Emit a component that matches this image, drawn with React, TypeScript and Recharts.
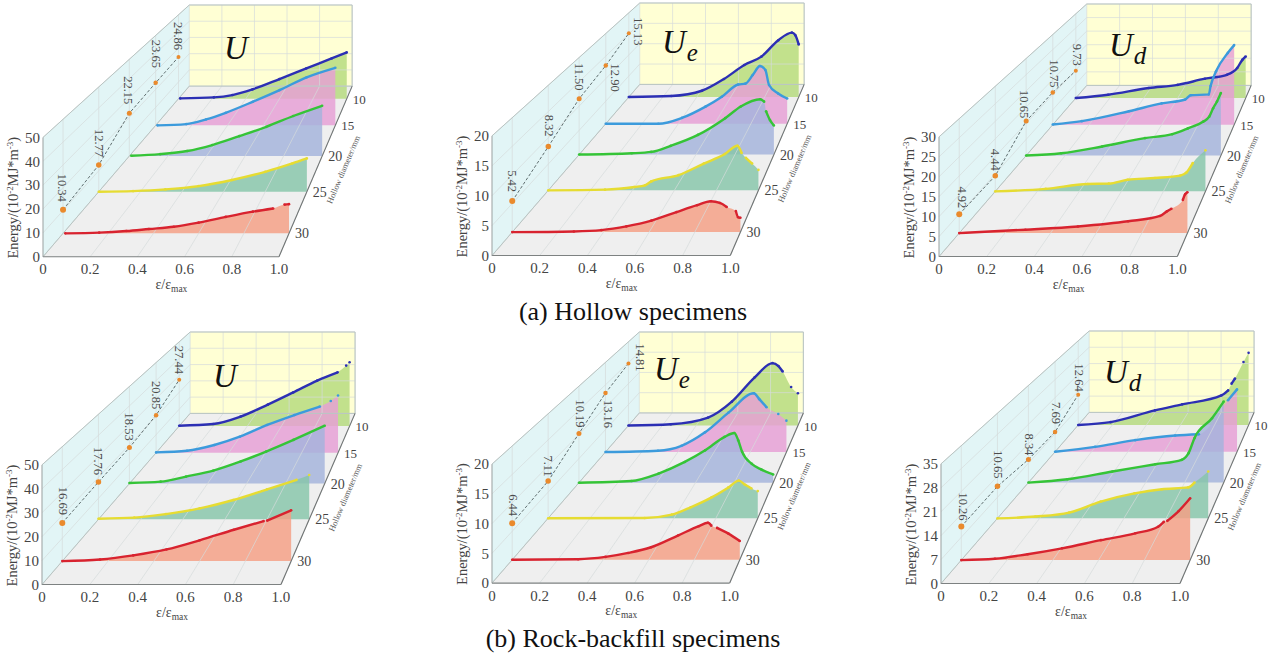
import React from 'react';
import { Area, ComposedChart, Line, XAxis, YAxis } from 'recharts';

type Pt = [number, number | null];

const FONT = '"Liberation Serif", "Times New Roman", serif';

// depth categories, front to back
const diameters = ['30', '25', '20', '15', '10'];
const strainTicks = [0, 0.2, 0.4, 0.6, 0.8, 1];

// (a) hollow specimens, total energy U: [strain ratio, energy above the baseline]
const hollowU30: Pt[] = [[0.01, 0], [0.16, 0.3], [0.28, 1], [0.38, 1.9], [0.49, 2.9], [0.6, 4.7], [0.72, 7.2], [0.84, 9.5], [0.93, 10.9], [0.95, null], [0.98, 12.6], [1, 12.8]];
const hollowU25: Pt[] = [[0, 0], [0.165, 0.3], [0.32, 1.1], [0.48, 2.7], [0.64, 5.6], [0.8, 9.5], [0.93, 13.5], [1, 15.9]];
const hollowU20: Pt[] = [[0.01, 0.2], [0.16, 1], [0.3, 2.6], [0.43, 5.7], [0.57, 10.3], [0.71, 15.1], [0.85, 20.7], [1, 26]];
const hollowU15: Pt[] = [[0.01, 0], [0.17, 0.7], [0.28, 3.3], [0.39, 7], [0.54, 13.1], [0.69, 19.6], [0.84, 26.7], [1, 32]];
const hollowU10: Pt[] = [[0.01, 0.2], [0.21, 0.8], [0.32, 2.2], [0.44, 5.6], [0.6, 11.7], [0.76, 18.1], [0.91, 24], [1, 27.6]];

// (a) elastic energy Ue
const hollowUe30: Pt[] = [[0, 0], [0.27, 0.12], [0.39, 0.35], [0.5, 1], [0.61, 2], [0.72, 3.5], [0.81, 4.7], [0.87, 5.4], [0.91, 5.1], [0.94, 4.4], [0.96, null], [0.98, 3.7], [0.99, 2.6], [1, 2.5]];
const hollowUe25: Pt[] = [[0, 0], [0.27, 0.13], [0.41, 0.63], [0.46, 0.95], [0.49, 1.7], [0.62, 2.9], [0.74, 5.1], [0.84, 6.9], [0.9, 8.5], [0.92, 7.1], [0.93, null], [0.94, 6.2], [0.97, 5.1], [0.985, null], [1, 3.9]];
const hollowUe20: Pt[] = [[0, 0], [0.27, 0.27], [0.37, 0.55], [0.47, 1.8], [0.61, 4.05], [0.75, 7.5], [0.83, 9.9], [0.93, 11.4], [0.95, 10.9], [0.955, null], [0.96, 8.9], [0.98, 7.1], [1, 6]];
const hollowUe15: Pt[] = [[0, 0], [0.29, 0], [0.42, 1.3], [0.55, 3.8], [0.64, 6], [0.73, 8.7], [0.77, 8.9], [0.81, 10.8], [0.85, 12.8], [0.88, 11.9], [0.9, 8.6], [0.95, 6.7], [1, 5.6]];
const hollowUe10: Pt[] = [[0, 0], [0.25, 0.24], [0.43, 1.5], [0.56, 4.3], [0.68, 7.6], [0.78, 9.6], [0.88, 13.5], [0.96, 15.3], [0.98, 14.7], [1, 12.5]];

// (a) dissipated energy Ud
const hollowUd30: Pt[] = [[0, 0], [0.29, 0.9], [0.52, 1.75], [0.74, 3.1], [0.88, 4.5], [0.91, 5.7], [0.93, 6.4], [0.95, null], [0.98, 8.7], [0.99, 10.2], [1, 10.7]];
const hollowUd25: Pt[] = [[0, 0], [0.24, 0.7], [0.44, 2.1], [0.54, 2.2], [0.63, 3.3], [0.76, 3.8], [0.88, 4.5], [0.91, 5.4], [0.94, 8.1], [0.97, null], [1, 11.7]];
const hollowUd20: Pt[] = [[0, 0], [0.18, 0.7], [0.39, 2.8], [0.61, 5.4], [0.75, 6.6], [0.83, 8.4], [0.91, 10.5], [0.94, 12], [0.96, 14.6], [0.98, 16.7], [1, 19.3]];
const hollowUd15: Pt[] = [[0, 0.1], [0.16, 1.2], [0.42, 4.5], [0.6, 7.1], [0.73, 8.4], [0.76, 9.8], [0.86, 10.1], [0.87, 12.9], [0.9, 17.8], [0.965, 23.9], [1, 26.5]];
const hollowUd10: Pt[] = [[0, 0], [0.19, 1.2], [0.43, 3.6], [0.6, 4.7], [0.76, 6.9], [0.89, 8.3], [0.95, 10.7], [0.98, 13.6], [1, 14.8]];

// (b) rock-backfill specimens, U
const backfillU30: Pt[] = [[0, 0], [0.165, 0.7], [0.31, 2.5], [0.455, 5.1], [0.6, 9.1], [0.75, 13.7], [0.88, 17.5], [0.89, null], [0.895, 17.7], [1, 22.2]];
const backfillU25: Pt[] = [[0, 0.3], [0.17, 0.8], [0.32, 2.5], [0.48, 5.2], [0.64, 9.2], [0.8, 14.3], [0.94, 18.8], [0.97, null], [1, 21.1]];
const backfillU20: Pt[] = [[0, 0.3], [0.16, 1], [0.29, 3.6], [0.43, 6.7], [0.57, 11.4], [0.7, 16.5], [0.84, 22.5], [1, 29.8]];
const backfillU15: Pt[] = [[0, 0.2], [0.17, 1.1], [0.32, 4.3], [0.46, 8.9], [0.61, 15.4], [0.76, 20.9], [0.9, 25.6], [0.93, null], [0.96, 28.7], [0.98, null], [1, 31.7]];
const backfillU10: Pt[] = [[0, 0.2], [0.2, 1.2], [0.36, 5.6], [0.52, 12.7], [0.67, 20], [0.81, 27], [0.93, 31.9], [0.95, null], [0.98, 35.9], [0.99, null], [1, 37.9]];

// (b) Ue
const backfillUe30: Pt[] = [[0, 0], [0.29, 0.1], [0.41, 0.5], [0.51, 1.2], [0.61, 2.2], [0.73, 4.3], [0.82, 5.9], [0.86, 6.5], [0.875, 6], [0.885, null], [0.9, 5.6], [0.95, 4.6], [1, 3.3]];
const backfillUe25: Pt[] = [[0, 0], [0.46, 0.06], [0.59, 0.7], [0.68, 2.1], [0.78, 4], [0.86, 5.9], [0.91, 7.2], [0.94, 6.4], [0.97, 5.7], [0.985, null], [1, 5.2]];
const backfillUe20: Pt[] = [[0, 0], [0.27, 0.35], [0.41, 1.9], [0.545, 4.3], [0.65, 6.7], [0.75, 9.5], [0.8, 10.3], [0.82, 8.8], [0.84, 6.4], [0.89, 3.9], [0.94, 2.7], [1, 1.7]];
const backfillUe15: Pt[] = [[0, 0], [0.29, 0.3], [0.42, 1.4], [0.55, 4.4], [0.68, 8.8], [0.82, 13.1], [0.85, 11.8], [0.89, 10], [0.92, null], [0.955, 8.5], [0.98, null], [1, 7]];
const backfillUe10: Pt[] = [[0, 0], [0.25, 0.3], [0.47, 1.9], [0.61, 5.7], [0.745, 11.5], [0.85, 14.9], [0.885, 14.2], [0.91, 12.9], [0.94, null], [0.96, 9.2], [0.98, null], [1, 7.7]];

// (b) Ud
const backfillUd30: Pt[] = [[0, 0], [0.147, 0.4], [0.29, 1.8], [0.44, 3.6], [0.61, 6.1], [0.76, 8.2], [0.86, 10.2], [0.885, 11.7], [0.89, null], [0.9, 12], [0.95, 15], [1, 18.9]];
const backfillUd25: Pt[] = [[0, 0], [0.18, 0.6], [0.34, 1.9], [0.49, 5.6], [0.65, 8.3], [0.78, 9.7], [0.905, 10.3], [0.935, 11.9], [0.97, null], [1, 15.6]];
const backfillUd20: Pt[] = [[0, 0], [0.2, 1.2], [0.43, 4], [0.65, 6.6], [0.785, 8.2], [0.82, 10.6], [0.85, 16], [0.94, 23.2], [1, 29.2]];
const backfillUd15: Pt[] = [[0, 0], [0.22, 1.9], [0.44, 4.5], [0.66, 6.3], [0.79, 6.8], [0.9, null], [0.95, 20], [1, 24.2]];
const backfillUd10: Pt[] = [[0, 0], [0.19, 1.2], [0.45, 6.1], [0.61, 8.6], [0.84, 12.3], [0.88, 14.4], [0.89, null], [0.9, 17.2], [0.92, 19.3], [0.95, null], [0.97, 26.2], [0.985, null], [1, 30]];

// peak values printed along the left wall
const hollowUPeaks = [10.34, 12.77, 22.15, 23.65, 24.86];
const hollowUePeaks = [5.42, 8.32, 11.5, 12.9, 15.13];
const hollowUdPeaks = [4.92, 4.44, 10.65, 10.75, 9.73];
const backfillUPeaks = [16.69, 17.76, 18.53, 20.85, 27.44];
const backfillUePeaks = [6.44, 7.11, 10.19, 13.16, 14.81];
const backfillUdPeaks = [10.26, 10.65, 8.34, 7.69, 12.64];

// oblique projection of the box, as fractions of the front plane
const DEPTH = [0.137, 0.381, 0.59, 0.77, 0.926];
const SHIFT_L = 0.62;
const SHIFT_R = 0.31;
const RISE = 1.43;
const SHRINK = 0.32;

const lineColors = ['#d8232f', '#e6dc32', '#35c437', '#3c9bdc', '#2c2fb4'];
const fillColors = ['#f59f84', '#86c6aa', '#a3b3dc', '#e69fd6', '#b4db7c'];

const panels = [
  { sym: 'U', sub: '', yMax: 50, yTicks: [0, 10, 20, 30, 40, 50], series: [hollowU30, hollowU25, hollowU20, hollowU15, hollowU10], peaks: hollowUPeaks,
    left: 43.3, bottom: 256.7, w: 236, h: 119.3, symX: 237, symY: 48,
    off: [[-1, -22], [0, -22], [-1, -23], [0, -29], [0, -21]] },
  { sym: 'U', sub: 'e', yMax: 20, yTicks: [0, 5, 10, 15, 20], series: [hollowUe30, hollowUe25, hollowUe20, hollowUe15, hollowUe10], peaks: hollowUePeaks,
    left: 492.3, bottom: 255.7, w: 238.3, h: 119.7, symX: 675, symY: 42,
    off: [[0, -20], [1, -21], [0, -22], [9, 12], [9, -2]] },
  { sym: 'U', sub: 'd', yMax: 30, yTicks: [0, 5, 10, 15, 20, 25, 30], series: [hollowUd30, hollowUd25, hollowUd20, hollowUd15, hollowUd10], peaks: hollowUdPeaks,
    left: 939.3, bottom: 256.7, w: 238.3, h: 119.7, symX: 1122, symY: 45,
    off: [[3, -17], [0, -16], [-2, -17], [1, -19], [1, -16]] },
  { sym: 'U', sub: '', yMax: 50, yTicks: [0, 10, 20, 30, 40, 50], series: [backfillU30, backfillU25, backfillU20, backfillU15, backfillU10], peaks: backfillUPeaks,
    left: 42, bottom: 584.7, w: 239, h: 119.7, symX: 226, symY: 376,
    off: [[1, -22], [0, -21], [0, -21], [0, -20], [0, -20]] },
  { sym: 'U', sub: 'e', yMax: 20, yTicks: [0, 5, 10, 15, 20], series: [backfillUe30, backfillUe25, backfillUe20, backfillUe15, backfillUe10], peaks: backfillUePeaks,
    left: 492.3, bottom: 583, w: 237.7, h: 119, symX: 667, symY: 369,
    off: [[1, -18], [0, -15], [1, -20], [3, 21], [12, -6]] },
  { sym: 'U', sub: 'd', yMax: 35, yTicks: [0, 7, 14, 21, 28, 35], series: [backfillUd30, backfillUd25, backfillUd20, backfillUd15, backfillUd10], peaks: backfillUdPeaks,
    left: 941, bottom: 584, w: 239, h: 119.7, symX: 1117, symY: 372,
    off: [[2, -20], [1, -22], [1, -15], [1, -19], [1, -17]] },
];

const projX = (x: number, t: number) => t * SHIFT_L + x * (1 + t * (SHIFT_R - SHIFT_L));
const projY = (v: number, t: number, yMax: number) => t * RISE * yMax + v * (1 - SHRINK * t);

const GRID = '#d6dbdb';
const EDGE = '#b9c4c2';
const lineProps = { isAnimationActive: false, dot: false, activeDot: false, legendType: 'none' as const };

const Panel = ({ p }: { p: (typeof panels)[number] }) => {
  const { yMax, w, h } = p;
  const backBase = RISE * yMax;
  const backTop = backBase + yMax * (1 - SHRINK);
  const xEnd = 1 + SHIFT_R;
  // the axes span the whole box, only the front-plane ticks are labelled
  const plotW = w * xEnd;
  const plotH = (h * backTop) / yMax;
  const marginL = 50;
  const marginT = 3;
  const marginB = 42;
  const marginR = 36;
  const chartW = marginL + plotW + marginR;
  const chartH = marginT + plotH + marginB;
  const baseY = marginT + plotH;

  const seg = (a: number[], b: number[]) => [{ x: a[0], y: a[1] }, { x: b[0], y: b[1] }];
  const grid: { x: number; y: number }[][] = [];
  p.yTicks.forEach((v) => {
    grid.push(seg([0, v], [SHIFT_L, projY(v, 1, yMax)]));
    grid.push(seg([SHIFT_L, projY(v, 1, yMax)], [xEnd, projY(v, 1, yMax)]));
  });
  strainTicks.forEach((x) => {
    grid.push(seg([x, 0], [projX(x, 1), backBase]));
    grid.push(seg([projX(x, 1), backBase], [projX(x, 1), backTop]));
  });
  DEPTH.forEach((t) => {
    grid.push(seg([projX(0, t), projY(0, t, yMax)], [projX(0, t), projY(yMax, t, yMax)]));
  });

  const peakRows = p.peaks.map((v, i) => ({ x: projX(0, DEPTH[i]), y: projY(v, DEPTH[i], yMax), label: v.toFixed(2), off: p.off[i] }));
  const depthRows = diameters.map((d, i) => ({ x: projX(1, DEPTH[i]), y: projY(0, DEPTH[i], yMax), label: d }));

  return (
    <div style={{ position: 'absolute', left: p.left - marginL, top: p.bottom - plotH - marginT }}>
      <ComposedChart width={chartW} height={chartH} margin={{ left: marginL - 30, right: marginR, top: marginT, bottom: marginB - 30 }}>
        <XAxis
          type="number"
          dataKey="x"
          domain={[0, xEnd]}
          ticks={strainTicks}
          interval={0}
          height={30}
          axisLine={false}
          tickSize={0}
          tickMargin={7}
          tickFormatter={(v: number) => (v === 0 ? '0' : v.toFixed(1))}
          tick={{ fontSize: 15, fontFamily: FONT, fill: '#444' }}
        />
        <YAxis
          type="number"
          dataKey="y"
          domain={[0, backTop]}
          ticks={p.yTicks}
          interval={0}
          width={30}
          axisLine={false}
          tickSize={0}
          tickMargin={3}
          tick={{ fontSize: 15, fontFamily: FONT, fill: '#444' }}
        />

        {/* floor and walls */}
        <Area isAnimationActive={false} dataKey="range" stroke="none" fill="#efefef" fillOpacity={1} activeDot={false} dot={false}
          data={[{ x: 0, range: [0, 0] }, { x: SHIFT_L, range: [0, backBase] }, { x: 1, range: [0, backBase] }, { x: xEnd, range: [backBase, backBase] }]} />
        <Area isAnimationActive={false} dataKey="range" stroke="none" fill="#e2f5f6" fillOpacity={1} activeDot={false} dot={false}
          data={[{ x: 0, range: [0, yMax] }, { x: SHIFT_L, range: [backBase, backTop] }]} />
        <Area isAnimationActive={false} dataKey="range" stroke="none" fill="#ffffd4" fillOpacity={1} activeDot={false} dot={false}
          data={[{ x: SHIFT_L, range: [backBase, backTop] }, { x: xEnd, range: [backBase, backTop] }]} />
        {grid.map((g, i) => (
          <Line key={`g${i}`} {...lineProps} data={g} dataKey="y" stroke={GRID} strokeWidth={0.7} />
        ))}
        <Line {...lineProps} data={seg([0, yMax], [SHIFT_L, backTop])} dataKey="y" stroke={EDGE} strokeWidth={1} />
        <Line {...lineProps} data={seg([SHIFT_L, backTop], [xEnd, backTop])} dataKey="y" stroke={EDGE} strokeWidth={1} />
        <Line {...lineProps} data={seg([xEnd, backBase], [xEnd, backTop])} dataKey="y" stroke={EDGE} strokeWidth={1} />
        <Line {...lineProps} data={seg([SHIFT_L, backBase], [xEnd, backBase])} dataKey="y" stroke={EDGE} strokeWidth={1} />
        <Line {...lineProps} data={seg([0, 0], [SHIFT_L, backBase])} dataKey="y" stroke={EDGE} strokeWidth={1} />
        <Line {...lineProps} data={seg([1, 0], [xEnd, backBase])} dataKey="y" stroke="#6f7373" strokeWidth={1.1} />
        <Line {...lineProps} data={seg([0, 0], [1, 0])} dataKey="y" stroke="#7d8181" strokeWidth={1.1} />
        <Line {...lineProps} data={seg([0, 0], [0, yMax])} dataKey="y" stroke="#9aa0a0" strokeWidth={1} />

        {/* peak values along the left wall */}
        <Line
          {...lineProps}
          data={peakRows}
          dataKey="y"
          stroke="#5f6d6e"
          strokeWidth={1}
          strokeDasharray="3 2"
          dot={(d: any) => (
            <g key={d.index}>
              <circle cx={d.cx} cy={d.cy} r={3 - d.index * 0.25} fill="#ea8a2c" />
              <text
                transform={`translate(${d.cx + d.payload.off[0]},${d.cy + d.payload.off[1]}) rotate(90)`}
                textAnchor="middle"
                dominantBaseline="central"
                fontSize={12.5}
                fontFamily={FONT}
                fill="#4c4c4c"
              >
                {d.payload.label}
              </text>
            </g>
          )}
        />

        {/* curves, back to front */}
        {[4, 3, 2, 1, 0].map((i) => {
          const t = DEPTH[i];
          const base = projY(0, t, yMax);
          const rows = p.series[i].map(([x, v]) => ({ x: projX(x, t), y: v === null ? null : projY(v, t, yMax) }));
          const areaRows = rows.filter((r) => r.y !== null).map((r) => ({ x: r.x, range: [base, r.y] }));
          return (
            <React.Fragment key={i}>
              <Area isAnimationActive={false} type="monotone" data={areaRows} dataKey="range" stroke="none" fill={fillColors[i]} fillOpacity={0.82} activeDot={false} dot={false} />
              <Line isAnimationActive={false} type="monotone" activeDot={false} data={rows} dataKey="y" stroke={lineColors[i]} strokeWidth={2.4} dot={{ r: 1.3, fill: lineColors[i], stroke: 'none' }} />
            </React.Fragment>
          );
        })}

        {/* depth axis labels */}
        <Line
          {...lineProps}
          data={depthRows}
          dataKey="y"
          stroke="none"
          dot={(d: any) => (
            <text key={d.index} x={d.cx + 6} y={d.cy + 5} fontSize={d.index < 3 ? 14 : 13} fontFamily={FONT} fill="#444">
              {d.payload.label}
            </text>
          )}
        />

        <text
          transform={`translate(${marginL + w + 67},${baseY - 86}) rotate(-67)`}
          textAnchor="middle"
          fontSize={8.5}
          fontFamily={FONT}
          fill="#555"
        >
          Hollow diameter/mm
        </text>
        <text x={marginL + w * 0.544} y={baseY + 32} textAnchor="middle" fontSize={14} fontFamily={FONT} fill="#444">
          ε/ε<tspan fontSize={9.5} dy={3}>max</tspan>
        </text>
        <text
          transform={`translate(${marginL - 25},${baseY - 59}) rotate(-90)`}
          textAnchor="middle"
          fontSize={14.5}
          fontFamily={FONT}
          fill="#444"
        >
          Energy/(10<tspan fontSize={9} dy={-5}>-2</tspan><tspan dy={5}>MJ*m</tspan><tspan fontSize={9} dy={-5}>-3</tspan><tspan dy={5}>)</tspan>
        </text>
      </ComposedChart>
      <div
        style={{
          position: 'absolute',
          left: marginL + (p.symX - p.left) - 13,
          top: baseY - (p.bottom - p.symY) - 20,
          fontFamily: FONT,
          fontStyle: 'italic',
          fontSize: 33,
          lineHeight: '40px',
          color: '#111',
          whiteSpace: 'nowrap',
        }}
      >
        {p.sym}
        {p.sub && <span style={{ fontSize: 25, position: 'relative', top: 8, left: 1 }}>{p.sub}</span>}
      </div>
    </div>
  );
};

const captionStyle: React.CSSProperties = {
  position: 'absolute',
  left: 0,
  width: 1266,
  textAlign: 'center',
  fontFamily: FONT,
  fontSize: 26,
  lineHeight: '30px',
  color: '#111',
};

export default function App() {
  return (
    <div style={{ position: 'absolute', left: 0, top: 0, width: 1271, height: 659 }}>
      {panels.map((p, i) => (
        <Panel key={i} p={p} />
      ))}
      <div style={{ ...captionStyle, top: 297 }}>(a) Hollow specimens</div>
      <div style={{ ...captionStyle, top: 624 }}>(b) Rock-backfill specimens</div>
    </div>
  );
}
